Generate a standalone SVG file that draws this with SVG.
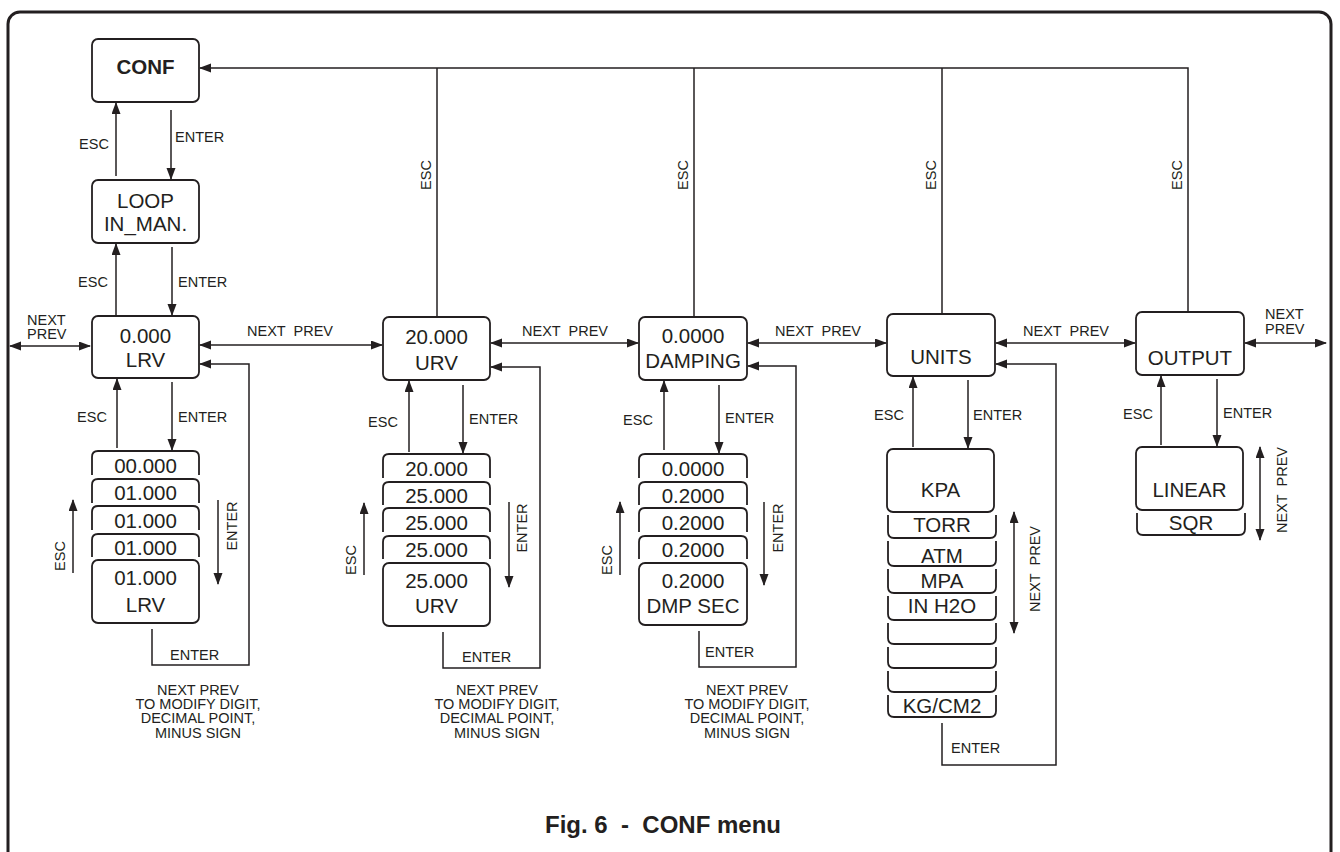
<svg xmlns="http://www.w3.org/2000/svg" width="1340" height="852" viewBox="0 0 1340 852">
<style>
.box{fill:none;stroke:#231f20;stroke-width:1.8}
.ln{fill:none;stroke:#231f20;stroke-width:1.5}
.a{marker-end:url(#ah)}
.d{marker-start:url(#ah);marker-end:url(#ah)}
text{font-family:"Liberation Sans",Arial,sans-serif;fill:#231f20}
.b{font-size:20.5px;text-anchor:middle}
.l{font-size:14.5px}
.m{text-anchor:middle}
.n{font-size:14.5px;text-anchor:middle}
</style>
<defs>
<marker id="ah" markerUnits="userSpaceOnUse" markerWidth="12" markerHeight="10" refX="11" refY="4.5" orient="auto-start-reverse" viewBox="0 0 12 10">
<path d="M0,0 L12,4.5 L0,9 z" fill="#231f20"/>
</marker>
</defs>
<rect x="8" y="12" width="1323" height="860" rx="12" fill="none" stroke="#231f20" stroke-width="3"/>

<g id="conf">
<rect class="box" x="92" y="39" width="107" height="63" rx="6"/>
<text class="b" x="145.5" y="74" font-weight="bold">CONF</text>
</g>
<g id="loop">
<rect class="box" x="92" y="180" width="107" height="63" rx="6"/>
<text class="b" x="145.5" y="208">LOOP</text>
<text class="b" x="145.5" y="231">IN_MAN.</text>
</g>
<g id="lrv">
<rect class="box" x="92" y="316" width="107" height="62" rx="6"/>
<text class="b" x="145.5" y="343">0.000</text>
<text class="b" x="145.5" y="367">LRV</text>
</g>
<g id="lrv-edit">
<path class="box" d="M92,475 V457 Q92,451 98,451 H193 Q199,451 199,457 V475"/>
<path class="box" d="M92,503 V485 Q92,479 98,479 H193 Q199,479 199,485 V503"/>
<path class="box" d="M92,530 V512 Q92,506 98,506 H193 Q199,506 199,512 V530"/>
<path class="box" d="M92,557 V540 Q92,534 98,534 H193 Q199,534 199,540 V557"/>
<rect class="box" x="92" y="560" width="107" height="63" rx="6"/>
<text class="b" x="145.5" y="473">00.000</text>
<text class="b" x="145.5" y="500">01.000</text>
<text class="b" x="145.5" y="528">01.000</text>
<text class="b" x="145.5" y="555">01.000</text>
<text class="b" x="145.5" y="585">01.000</text>
<text class="b" x="145.5" y="612">LRV</text>
</g>
<g id="urv">
<rect class="box" x="383" y="317" width="107" height="63" rx="6"/>
<text class="b" x="436.5" y="344">20.000</text>
<text class="b" x="436.5" y="370">URV</text>
</g>
<g id="urv-edit">
<path class="box" d="M383,478 V460 Q383,454 389,454 H484 Q490,454 490,460 V478"/>
<path class="box" d="M383,505 V488 Q383,482 389,482 H484 Q490,482 490,488 V505"/>
<path class="box" d="M383,532 V514 Q383,508 389,508 H484 Q490,508 490,514 V532"/>
<path class="box" d="M383,559 V542 Q383,536 389,536 H484 Q490,536 490,542 V559"/>
<rect class="box" x="383" y="563" width="107" height="63" rx="6"/>
<text class="b" x="436.5" y="476">20.000</text>
<text class="b" x="436.5" y="503">25.000</text>
<text class="b" x="436.5" y="530">25.000</text>
<text class="b" x="436.5" y="557">25.000</text>
<text class="b" x="436.5" y="588">25.000</text>
<text class="b" x="436.5" y="613">URV</text>
</g>
<g id="damping">
<rect class="box" x="639" y="317" width="108" height="63" rx="6"/>
<text class="b" x="693" y="343">0.0000</text>
<text class="b" x="693" y="368">DAMPING</text>
</g>
<g id="damping-edit">
<path class="box" d="M639,478 V460 Q639,454 645,454 H741 Q747,454 747,460 V478"/>
<path class="box" d="M639,505 V488 Q639,482 645,482 H741 Q747,482 747,488 V505"/>
<path class="box" d="M639,532 V514 Q639,508 645,508 H741 Q747,508 747,514 V532"/>
<path class="box" d="M639,559 V542 Q639,536 645,536 H741 Q747,536 747,542 V559"/>
<rect class="box" x="639" y="563" width="108" height="62" rx="6"/>
<text class="b" x="693" y="476">0.0000</text>
<text class="b" x="693" y="503">0.2000</text>
<text class="b" x="693" y="530">0.2000</text>
<text class="b" x="693" y="557">0.2000</text>
<text class="b" x="693" y="588">0.2000</text>
<text class="b" x="693" y="613">DMP SEC</text>
</g>
<g id="units">
<rect class="box" x="887" y="314" width="108" height="62" rx="6"/>
<text class="b" x="941" y="364">UNITS</text>
</g>
<g id="units-list">
<rect class="box" x="887" y="449" width="107" height="63" rx="6"/>
<text class="b" x="940.5" y="497">KPA</text>
<path class="box" d="M888,515 V532 Q888,538 894,538 H990 Q996,538 996,532 V515"/>
<path class="box" d="M888,541 V560 Q888,566 894,566 H990 Q996,566 996,560 V541"/>
<path class="box" d="M888,569 V587 Q888,593 894,593 H990 Q996,593 996,587 V569"/>
<path class="box" d="M888,596 V614 Q888,620 894,620 H990 Q996,620 996,614 V596"/>
<path class="box" d="M888,623 V638 Q888,644 894,644 H990 Q996,644 996,638 V623"/>
<path class="box" d="M888,647 V662 Q888,668 894,668 H990 Q996,668 996,662 V647"/>
<path class="box" d="M888,671 V686 Q888,692 894,692 H990 Q996,692 996,686 V671"/>
<path class="box" d="M888,695 V711 Q888,717 894,717 H990 Q996,717 996,711 V695"/>
<text class="b" x="942" y="532">TORR</text>
<text class="b" x="942" y="563">ATM</text>
<text class="b" x="942" y="588">MPA</text>
<text class="b" x="942" y="613">IN H2O</text>
<text class="b" x="942" y="713">KG/CM2</text>
</g>
<g id="output">
<rect class="box" x="1136" y="312" width="108" height="63" rx="6"/>
<text class="b" x="1190" y="365">OUTPUT</text>
</g>
<g id="output-list">
<rect class="box" x="1136" y="447" width="107" height="63" rx="6"/>
<text class="b" x="1189.5" y="497">LINEAR</text>
<path class="box" d="M1137,513 V529 Q1137,535 1143,535 H1239 Q1245,535 1245,529 V513"/>
<text class="b" x="1191" y="530">SQR</text>
</g>

<g id="connectors">
<path class="ln" d="M437,317 V68"/>
<path class="ln" d="M694,317 V68"/>
<path class="ln" d="M942,314 V68"/>
<path class="ln a" d="M1188,312 V68 H200"/>
<path class="ln a" d="M116,176 V103"/>
<path class="ln a" d="M171,110 V179"/>
<path class="ln a" d="M116,316 V244"/>
<path class="ln a" d="M172,247 V315"/>
<path class="ln d" d="M10,346 H90"/>
<path class="ln d" d="M200,345 H382"/>
<path class="ln d" d="M491,343 H638"/>
<path class="ln d" d="M748,343 H886"/>
<path class="ln d" d="M996,343 H1135"/>
<path class="ln d" d="M1245,343 H1326"/>
<path class="ln a" d="M117,448 V379"/>
<path class="ln a" d="M172,382 V450"/>
<path class="ln a" d="M409,452 V381"/>
<path class="ln a" d="M463,385 V453"/>
<path class="ln a" d="M664,450 V381"/>
<path class="ln a" d="M719,385 V453"/>
<path class="ln a" d="M913,447 V377"/>
<path class="ln a" d="M968,380 V448"/>
<path class="ln a" d="M1161,445 V376"/>
<path class="ln a" d="M1217,379 V446"/>
<path class="ln a" d="M73,573 V500"/>
<path class="ln a" d="M218,500 V584"/>
<path class="ln a" d="M364,575 V503"/>
<path class="ln a" d="M509,502 V587"/>
<path class="ln a" d="M620,575 V502"/>
<path class="ln a" d="M764,502 V585"/>
<path class="ln d" d="M1014,512 V633"/>
<path class="ln d" d="M1260,447 V540"/>
<path class="ln a" d="M152,629 V665 H249 V364 H200"/>
<path class="ln a" d="M443,632 V668 H540 V367 H491"/>
<path class="ln a" d="M699,631 V667 H796 V366 H748"/>
<path class="ln a" d="M942,723 V765 H1056 V364 H996"/>
</g>

<g id="labels">
<text class="n" x="94" y="149">ESC</text>
<text class="l" x="175" y="142">ENTER</text>
<text class="n" x="93" y="287">ESC</text>
<text class="l" x="178" y="287">ENTER</text>
<text class="n" x="92" y="422">ESC</text>
<text class="l" x="178" y="422">ENTER</text>
<text class="n" x="383" y="427">ESC</text>
<text class="l" x="469" y="424">ENTER</text>
<text class="n" x="638" y="425">ESC</text>
<text class="l" x="725" y="423">ENTER</text>
<text class="n" x="889" y="420">ESC</text>
<text class="l" x="973" y="420">ENTER</text>
<text class="n" x="1138" y="419">ESC</text>
<text class="l" x="1223" y="418">ENTER</text>
<text class="l" x="27" y="325">NEXT</text>
<text class="l" x="27" y="339">PREV</text>
<text class="l" x="1265" y="319">NEXT</text>
<text class="l" x="1265" y="334">PREV</text>
<text class="n" x="290" y="336" xml:space="preserve">NEXT  PREV</text>
<text class="n" x="565" y="336" xml:space="preserve">NEXT  PREV</text>
<text class="n" x="818" y="336" xml:space="preserve">NEXT  PREV</text>
<text class="n" x="1066" y="336" xml:space="preserve">NEXT  PREV</text>
<text class="n" transform="translate(431,175) rotate(-90)">ESC</text>
<text class="n" transform="translate(688,175) rotate(-90)">ESC</text>
<text class="n" transform="translate(936,175) rotate(-90)">ESC</text>
<text class="n" transform="translate(1182,175) rotate(-90)">ESC</text>
<text class="n" transform="translate(65,556) rotate(-90)">ESC</text>
<text class="n" transform="translate(356,560) rotate(-90)">ESC</text>
<text class="n" transform="translate(612,560) rotate(-90)">ESC</text>
<text class="n" transform="translate(237,526) rotate(-90)">ENTER</text>
<text class="n" transform="translate(527,528) rotate(-90)">ENTER</text>
<text class="n" transform="translate(783,528) rotate(-90)">ENTER</text>
<text class="n" transform="translate(1040,569) rotate(-90)" xml:space="preserve">NEXT  PREV</text>
<text class="n" transform="translate(1287,490) rotate(-90)" xml:space="preserve">NEXT  PREV</text>
<text class="l" x="170" y="660">ENTER</text>
<text class="l" x="462" y="662">ENTER</text>
<text class="l" x="705" y="657">ENTER</text>
<text class="l" x="951" y="753">ENTER</text>
<text class="n"><tspan x="198" y="695">NEXT PREV</tspan><tspan x="198" y="709">TO MODIFY DIGIT,</tspan><tspan x="198" y="723">DECIMAL POINT,</tspan><tspan x="198" y="738">MINUS SIGN</tspan></text>
<text class="n"><tspan x="497" y="695">NEXT PREV</tspan><tspan x="497" y="709">TO MODIFY DIGIT,</tspan><tspan x="497" y="723">DECIMAL POINT,</tspan><tspan x="497" y="738">MINUS SIGN</tspan></text>
<text class="n"><tspan x="747" y="695">NEXT PREV</tspan><tspan x="747" y="709">TO MODIFY DIGIT,</tspan><tspan x="747" y="723">DECIMAL POINT,</tspan><tspan x="747" y="738">MINUS SIGN</tspan></text>
<text class="m" x="663" y="833" font-size="24" font-weight="bold" xml:space="preserve">Fig. 6  -  CONF menu</text>
</g>
</svg>
